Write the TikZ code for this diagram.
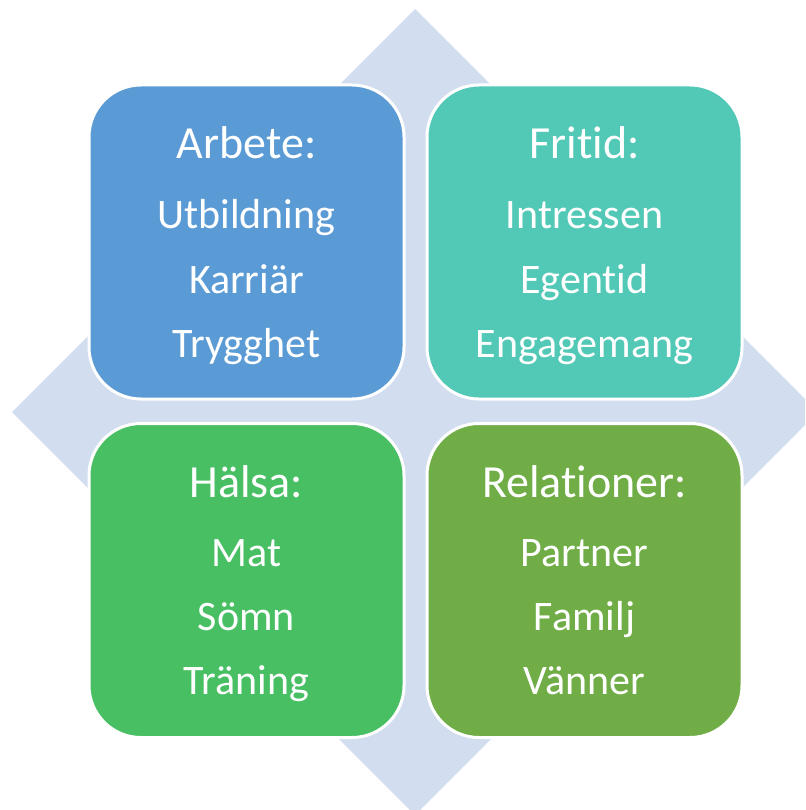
\documentclass[tikz,border=0pt]{standalone}
\usepackage{fontspec}
\setmainfont{Carlito}[Ligatures=NoCommon]
\definecolor{diamondfill}{HTML}{D2DEEF}
\definecolor{workblue}{HTML}{5B9BD5}
\definecolor{leisureteal}{HTML}{52C8B6}
\definecolor{healthgreen}{HTML}{48BF63}
\definecolor{relolive}{HTML}{70AD47}
\tikzset{
  quad/.style={draw=white, line width=3pt, rounded corners=52pt,
    minimum width=315pt, minimum height=314pt, inner sep=0pt},
  heading/.style={anchor=base, text=white, font=\fontsize{46}{50}\selectfont, inner sep=0pt},
  entry/.style={anchor=base, text=white, font=\fontsize{42}{46}\selectfont, inner sep=0pt}
}
\begin{document}
\begin{tikzpicture}[x=1pt,y=-1pt]
  \useasboundingbox (0,0) rectangle (805,810);
  % background diamond, cut off by the page edges
  \begin{scope}
    \clip (0,0) rectangle (805,810);
    \fill[diamondfill] (415,9) -- (818,412) -- (415,815) -- (12,412) -- cycle;
  \end{scope}
  % four quadrants
  \node[quad, fill=workblue]    (work)     at (246.5,242)   {};
  \node[quad, fill=leisureteal] (leisure)  at (584.5,242)   {};
  \node[quad, fill=healthgreen] (health)   at (246.5,580.5) {};
  \node[quad, fill=relolive]    (relation) at (584.5,580.5) {};
  % Arbete
  \node[heading] (workT)  at (246.5,159) {Arbete:};
  \node[entry]   (workA)  at (246.5,229) {Utbildning};
  \node[entry]   (workB)  at (246.5,293) {Karriär};
  \node[entry]   (workC)  at (246.5,357) {Trygghet};
  % Fritid
  \node[heading] (leisT)  at (584.5,159) {Fritid:};
  \node[entry]   (leisA)  at (584.5,229) {Intressen};
  \node[entry]   (leisB)  at (584.5,293) {Egentid};
  \node[entry]   (leisC)  at (584.5,357) {Engagemang};
  % Hälsa
  \node[heading] (healT)  at (246.5,497) {Hälsa:};
  \node[entry]   (healA)  at (246.5,566) {Mat};
  \node[entry]   (healB)  at (246.5,630) {Sömn};
  \node[entry]   (healC)  at (246.5,694) {Träning};
  % Relationer
  \node[heading] (relT)   at (584.5,497) {Relationer:};
  \node[entry]   (relA)   at (584.5,566) {Partner};
  \node[entry]   (relB)   at (584.5,630) {Familj};
  \node[entry]   (relC)   at (584.5,694) {Vänner};
\end{tikzpicture}
\end{document}
